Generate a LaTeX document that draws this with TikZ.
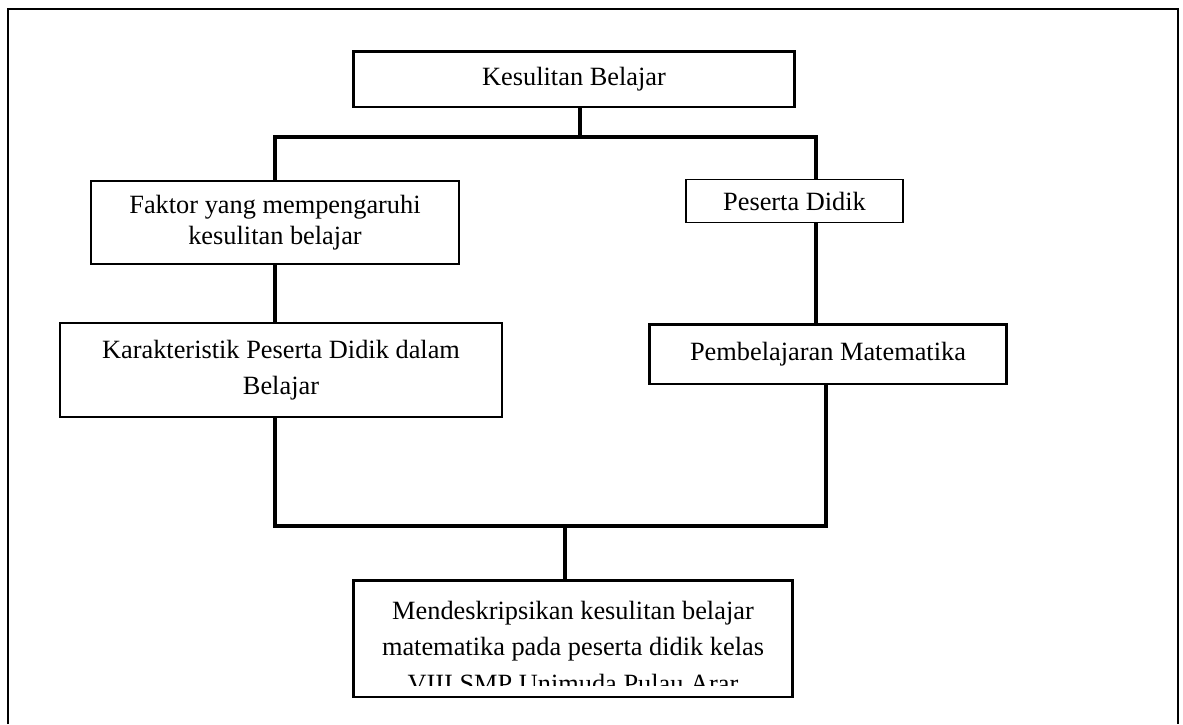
\documentclass[tikz,border=0pt]{standalone}
\usepackage{fontspec}
\setmainfont{Liberation Serif}

\tikzset{
  kotak/.style={draw, line width=0.75pt, align=center, inner sep=0pt, font=\fontsize{15}{17.6}\selectfont},
  kotaktebal/.style={kotak, line width=1.7pt},
  teks/.style={align=center, inner sep=0pt, font=\fontsize{15}{20.6}\selectfont},
  garis/.style={line width=2.3pt},
}

\begin{document}
\begin{tikzpicture}[x=0.02cm, y=-0.02cm]
\useasboundingbox (0,0) rectangle (1183,724);
\draw[line width=1pt] (8,724) -- (8,9) -- (1178,9) -- (1178,724);

% kotak-kotak
\node[kotaktebal, minimum width=8.84cm, minimum height=1.12cm] (kesulitan) at (574,79) {Kesulitan Belajar};
\node[kotak, minimum width=7.36cm, minimum height=1.66cm] (faktor) at (275,222.5) {Faktor yang mempengaruhi\\ kesulitan belajar};
\node[kotak, minimum width=8.84cm, minimum height=1.88cm, font=\fontsize{15}{20.4}\selectfont] (karakter) at (281,370) {Karakteristik Peserta Didik dalam\\ Belajar};
\node[kotak, minimum width=4.34cm, minimum height=0.86cm] (peserta) at (794.5,201) {Peserta Didik};
\node[kotaktebal, minimum width=7.16cm, minimum height=1.2cm] (pembelajaran) at (828,354) {Pembelajaran Matematika};
\node[kotaktebal, minimum width=8.8cm, minimum height=2.34cm] (tujuan) at (573,638.5) {};
\begin{scope}
\clip (360,585) rectangle (786,685);
\node[teks] (tujuanteks) at (573,647) {Mendeskripsikan kesulitan belajar\\ matematika pada peserta didik kelas\\ VIII SMP Unimuda Pulau Arar};
\end{scope}

% garis penghubung
\coordinate (tengahatas) at (580,137);
\coordinate (kiriatas) at (275,137);
\coordinate (kananatas) at (816,137);
\coordinate (kiribawah) at (275,526);
\coordinate (kananbawah) at (826,526);
\coordinate (tengahbawah) at (565,526);
\draw[garis] (tengahatas |- kesulitan.south) -- (tengahatas);
\draw[garis] (faktor.north) -- (kiriatas) -- (kananatas) -- (kananatas |- peserta.north);
\draw[garis] (faktor.south) -- (faktor.south |- karakter.north);
\draw[garis] (kananatas |- peserta.south) -- (kananatas |- pembelajaran.north);
\draw[garis] (kiriatas |- karakter.south) -- (kiribawah) -- (kananbawah) -- (kananbawah |- pembelajaran.south);
\draw[garis] (tengahbawah) -- (tengahbawah |- tujuan.north);
\end{tikzpicture}
\end{document}
